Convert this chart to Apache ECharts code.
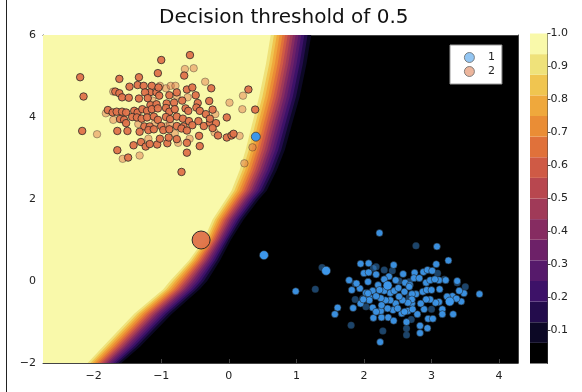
<!DOCTYPE html>
<html>
<head>
<meta charset="utf-8">
<script src="https://cdn.jsdelivr.net/npm/echarts@6/dist/echarts.min.js"></script>
<style>
  html, body { margin: 0; padding: 0; background: #fff; }
  #chart { width: 582px; height: 392px; }
</style>
</head>
<body>
<div id="chart"></div>
<script>
// axis ranges
const xMin = -2.75, xMax = 4.28;
const yMin = -2, yMax = 6;

// contour levels of the colour bar (16 bands) and their colours, bottom to top
const levels = [0, 0.0625, 0.125, 0.1875, 0.25, 0.3125, 0.375, 0.4375, 0.5,
  0.5625, 0.625, 0.6875, 0.75, 0.8125, 0.875, 0.9375, 1];
const bandColors = ['#000000', '#0c0825', '#230c4c', '#3d1268', '#561a6b', '#6d2168',
  '#862c61', '#a03a58', '#b8474f', '#cf5a45', '#e0713a', '#ea8d35', '#efa83c',
  '#f0c550', '#efe27a', '#f9f9aa'];

// transition zone: at each row, where the 0.9375 line (outer)
// and the 0.0625 line (inner) cross it, and where the lines in between sit across it
const contourRowsY = [6, 5.3, 4.5, 3.8, 3.2, 2.7, 2.2, 2.0, 1.5, 1.0, 0.5, 0.0, -0.2, -0.8, -1.6, -2.0];
const outerEdgeX = [0.62, 0.55, 0.45, 0.34, 0.25, 0.16, 0.04, -0.04, -0.24, -0.37, -0.59, -0.87, -0.97, -1.40, -1.86, -2.09];
const innerEdgeX = [1.22, 1.15, 1.05, 0.93, 0.83, 0.71, 0.56, 0.45, 0.22, 0.03, -0.13, -0.32, -0.43, -0.84, -1.31, -1.59];
const edgeFrac = [0, 0.08, 0.15, 0.22, 0.29, 0.355, 0.42, 0.485, 0.55, 0.615, 0.685, 0.755, 0.83, 0.91, 1.0];

// class 2 (orange)
const class2Solid = [
  [-2.20, 4.97], [-2.15, 4.50], [-2.17, 3.66], [-1.65, 3.19], [-1.49, 3.01], [-1.62, 4.93], [-1.79, 4.17],
  [-1.72, 4.11], [-1.68, 4.62], [-1.62, 4.58], [-1.58, 4.48], [-1.48, 4.47], [-1.47, 4.74], [-1.35, 4.78],
  [-1.33, 4.97], [-1.26, 4.76], [-1.14, 4.76], [-1.17, 4.60], [-1.24, 4.60], [-1.07, 4.60], [-1.00, 5.39],
  [-0.575, 5.51], [-1.05, 5.07], [-0.66, 5.01], [-0.62, 4.67], [-0.54, 4.72], [-0.26, 4.70], [0.29, 4.67],
  [-1.04, 4.72], [-0.77, 4.60], [-1.33, 4.45], [-1.20, 4.46], [-1.03, 4.52], [-0.88, 4.53], [-0.49, 4.53],
  [-0.46, 4.34], [-0.29, 4.39], [-1.16, 4.29], [-1.07, 4.31], [-0.92, 4.33], [-0.81, 4.35], [-0.69, 4.40],
  [-1.66, 4.13], [-1.58, 4.13], [-1.52, 4.11], [-1.40, 4.15], [-1.35, 4.11], [-1.28, 4.19], [-1.21, 4.15],
  [-1.14, 4.19], [-1.05, 4.21], [-0.93, 4.22], [-0.88, 4.13], [-0.80, 4.19], [-0.64, 4.21], [-0.60, 4.15],
  [-0.48, 4.23], [-0.43, 4.15], [-0.34, 4.07], [-0.24, 4.18], [-0.03, 3.99], [0.39, 4.18], [-1.61, 3.95],
  [-1.55, 3.93], [-1.52, 3.85], [-1.43, 4.00], [-1.36, 3.99], [-1.29, 3.96], [-1.21, 3.99], [-1.11, 4.01],
  [-1.05, 3.93], [-0.93, 4.00], [-0.87, 3.95], [-0.77, 4.01], [-0.68, 3.96], [-0.59, 3.90], [-0.54, 3.80],
  [-0.45, 3.90], [-0.37, 3.78], [-0.28, 3.86], [-0.19, 3.85], [-0.28, 3.96], [-1.25, 3.77], [-1.17, 3.77],
  [-1.00, 3.78], [-0.77, 3.78], [-0.67, 3.77], [-0.24, 3.73], [-1.65, 3.66], [-1.50, 3.66], [-1.32, 3.64],
  [-1.19, 3.68], [-1.11, 3.70], [-0.97, 3.68], [-0.88, 3.70], [-0.70, 3.72], [-0.62, 3.67], [-0.44, 3.54],
  [-0.16, 3.55], [-0.03, 3.50], [0.04, 3.55], [0.07, 3.59], [-1.41, 3.31], [-1.30, 3.39], [-1.23, 3.28],
  [-1.17, 3.34], [-1.06, 3.33], [-1.02, 3.47], [-0.91, 3.36], [-0.89, 3.50], [-0.77, 3.46], [-0.62, 3.37],
  [-0.43, 3.29], [-0.62, 3.13], [-0.70, 2.66]
];
const class2Faded = [
  [-0.65, 5.17], [-0.52, 5.19], [-0.35, 4.86], [-1.02, 4.76], [-0.93, 4.70], [-0.86, 4.76], [-0.79, 4.76],
  [-1.71, 4.62], [-0.77, 4.52], [-0.61, 4.48], [0.01, 4.35], [0.21, 4.52], [-1.13, 4.40], [-1.82, 4.09],
  [-0.20, 4.07], [0.20, 4.19], [-1.71, 3.93], [-1.34, 3.83], [-1.09, 3.86], [-0.93, 3.77], [-0.87, 3.83],
  [-1.95, 3.58], [-0.80, 3.60], [-0.21, 3.62], [0.16, 3.54], [-1.19, 3.47], [-0.58, 3.47], [-0.75, 3.37],
  [-1.57, 2.98], [-1.32, 3.06], [0.35, 3.26], [0.23, 2.87]
];
const class2Query = [[-0.41, 1.0]];

// class 1 (blue)
const class1Solid = [
  [2.23, 1.17], [3.08, 0.84], [3.25, 0.50], [0.99, -0.25], [1.61, -0.65], [1.57, -0.81], [1.78, 0.02],
  [1.84, -0.66], [1.95, 0.42], [2.07, 0.43], [2.18, 0.16], [2.00, 0.19], [2.07, 0.21], [2.44, 0.39],
  [2.58, 0.17], [2.75, 0.20], [2.88, 0.22], [2.94, 0.27], [3.01, 0.25], [3.07, 0.41], [3.11, 0.02],
  [3.21, 0.02], [3.38, 0.00], [1.82, -0.22], [1.94, -0.18], [2.03, -0.29], [2.08, -0.40], [1.95, -0.55],
  [2.13, -0.65], [2.14, -0.90], [2.26, -0.89], [2.36, -0.89], [2.44, -0.97], [2.25, -0.73], [2.43, -0.71],
  [2.56, -0.79], [2.65, -0.73], [2.71, -0.55], [2.79, -0.81], [2.89, -0.69], [2.95, -0.92], [3.02, -0.92],
  [2.83, -1.09], [2.94, -1.15], [2.63, -1.00], [2.83, -1.27], [2.24, -1.49], [3.71, -0.32], [3.44, -0.50],
  [3.48, -0.30], [3.31, -0.37], [3.37, -0.43], [3.16, -0.69], [3.16, -0.81], [3.32, -0.81], [3.11, -0.51],
  [3.06, -0.53], [2.98, -0.45], [2.92, -0.45], [2.87, -0.26], [2.93, -0.22], [3.00, -0.22], [3.12, -0.20],
  [2.77, -0.32], [2.71, -0.32], [2.71, -0.45], [2.65, -0.53], [2.57, -0.47], [2.47, -0.55], [2.39, -0.47],
  [2.32, -0.47], [2.25, -0.42], [2.39, -0.29], [2.45, -0.24], [2.51, -0.17], [2.30, -0.24], [2.21, -0.10],
  [2.13, -0.24], [2.06, -0.30], [2.18, -0.37], [2.23, -0.22], [2.52, -0.38], [2.60, -0.26], [2.61, -0.04],
  [2.68, -0.10], [2.74, 0.07], [2.82, 0.07], [2.92, -0.04], [2.98, 0.02], [3.05, 0.04], [2.84, -0.55],
  [3.23, -0.38], [3.41, -0.24], [2.67, -0.14], [2.47, 0.02], [2.37, 0.11], [2.30, 0.04], [2.06, -0.02],
  [1.89, -0.06], [2.26, -0.59], [2.18, -0.75], [2.35, -0.67], [2.50, -0.67], [2.60, -0.75], [2.72, -0.69],
  [2.08, -0.47], [1.99, -0.45]
];
const class1Faded = [
  [2.77, 0.86], [1.38, 0.33], [1.28, -0.20], [1.81, -1.08], [2.28, -1.22], [2.63, -1.16], [2.63, -1.32],
  [3.50, -0.14], [3.38, -0.04], [1.87, -0.06], [2.18, 0.35], [2.30, 0.27], [2.52, 0.00], [2.67, -0.02],
  [1.87, -0.45], [2.03, -0.63], [2.70, -0.94], [3.00, -0.69], [3.09, 0.19], [3.19, 0.04], [2.42, 0.25],
  [2.14, 0.31], [1.98, -0.43], [2.67, -0.40]
];
const class1Large = [[0.52, 0.63], [1.44, 0.25], [2.35, -0.11], [3.27, -0.50], [0.40, 3.52]];

const xTicksMinus = (v) => (v < 0 ? '\u2212' + Math.abs(v) : String(v));
const font = 'DejaVu Sans';
const orange = '#df724a';
const blue = '#3d97ea';

// fills the region on the high side of one contour line
function renderLevel(params, api) {
  const k = api.value(2);
  const f = edgeFrac[15 - k];
  const pts = [api.coord([xMin, yMax])];
  for (let i = 0; i < contourRowsY.length; i++) {
    const x = outerEdgeX[i] + f * (innerEdgeX[i] - outerEdgeX[i]);
    pts.push(api.coord([x, contourRowsY[i]]));
  }
  pts.push(api.coord([xMin, yMin]));
  return { type: 'polygon', shape: { points: pts }, style: { fill: bandColors[k] } };
}

// one band of the colour bar
function renderBand(params, api) {
  const i = api.value(2);
  const p0 = api.coord([0, levels[i]]);
  const p1 = api.coord([1, levels[i + 1]]);
  return {
    type: 'rect',
    shape: { x: p0[0], y: p1[1], width: p1[0] - p0[0], height: p0[1] - p1[1] },
    style: { fill: bandColors[i] }
  };
}

const levelData = [];
for (let k = 1; k <= 15; k++) levelData.push([xMin, yMin, k]);
const bandData = [];
for (let i = 0; i < 16; i++) bandData.push([0, levels[i], i]);

const chart = echarts.init(document.getElementById('chart'), null, { renderer: 'canvas' });

chart.setOption({
  animation: false,
  backgroundColor: '#fff',
  textStyle: { fontFamily: font },
  title: {
    text: 'Decision threshold of 0.5',
    left: 154,
    top: 3,
    textStyle: { fontFamily: font, fontSize: 20, fontWeight: 'normal', color: '#111' }
  },
  graphic: [{
    type: 'line',
    shape: { x1: 6.5, y1: 0, x2: 6.5, y2: 392 },
    style: { stroke: '#222', lineWidth: 1 }
  }],
  legend: {
    left: 450,
    top: 45,
    orient: 'vertical',
    backgroundColor: '#fff',
    borderColor: '#999',
    borderWidth: 1,
    borderRadius: 0,
    padding: [7, 7, 7, 14],
    itemGap: 3,
    itemWidth: 25,
    itemHeight: 10,
    icon: 'circle',
    textStyle: { fontFamily: font, fontSize: 11, color: '#222', padding: [0, 0, 0, 1] },
    data: [
      { name: '1', itemStyle: { color: '#93c6f3', borderColor: '#666', borderWidth: 0.8, opacity: 1 } },
      { name: '2', itemStyle: { color: '#ecb59c', borderColor: '#666', borderWidth: 0.8, opacity: 1 } }
    ],
    selectedMode: false
  },
  grid: [
    { left: 43, top: 35, width: 475, height: 328, show: true, backgroundColor: '#000', borderWidth: 0 },
    { left: 530, top: 33.5, width: 17.5, height: 330 }
  ],
  xAxis: [
    {
      gridIndex: 0, type: 'value', min: xMin, max: xMax, splitNumber: 7,
      axisLine: { show: true, onZero: false, lineStyle: { color: '#444', width: 1 } },
      axisTick: { show: true, inside: true, length: 4, lineStyle: { color: '#444' } },
      axisLabel: {
        showMinLabel: false, showMaxLabel: false, formatter: xTicksMinus,
        fontFamily: font, fontSize: 11, color: '#222', margin: 8
      },
      splitLine: { show: false }
    },
    {
      gridIndex: 0, type: 'value', min: xMin, max: xMax, position: 'top',
      axisLine: { show: true, onZero: false, lineStyle: { color: '#444', width: 1 } },
      axisTick: { show: false }, axisLabel: { show: false }, splitLine: { show: false }
    },
    { gridIndex: 1, type: 'value', min: 0, max: 1, show: false }
  ],
  yAxis: [
    {
      gridIndex: 0, type: 'value', min: yMin, max: yMax, interval: 2,
      axisLine: { show: true, onZero: false, lineStyle: { color: '#444', width: 1 } },
      axisTick: { show: true, inside: true, length: 4, lineStyle: { color: '#444' } },
      axisLabel: { formatter: xTicksMinus, fontFamily: font, fontSize: 11, color: '#222', margin: 7 },
      splitLine: { show: false }
    },
    {
      gridIndex: 0, type: 'value', min: yMin, max: yMax, position: 'right',
      axisLine: { show: true, onZero: false, lineStyle: { color: '#444', width: 1 } },
      axisTick: { show: false }, axisLabel: { show: false }, splitLine: { show: false }
    },
    {
      gridIndex: 1, type: 'value', min: 0, max: 1, interval: 0.1, position: 'right',
      axisLine: { show: true, onZero: false, lineStyle: { color: '#444', width: 1 } },
      axisTick: { show: true, inside: false, length: 3, lineStyle: { color: '#444' } },
      axisLabel: {
        showMinLabel: false, formatter: (v) => v.toFixed(1),
        fontFamily: font, fontSize: 11, color: '#222', margin: 3
      },
      splitLine: { show: false }
    }
  ],
  series: [
    {
      type: 'custom', name: 'contour', xAxisIndex: 0, yAxisIndex: 0,
      renderItem: renderLevel, data: levelData, encode: { x: 0, y: 1 },
      silent: true, z: 1
    },
    {
      type: 'custom', name: 'colorbar', xAxisIndex: 2, yAxisIndex: 2,
      renderItem: renderBand, data: bandData, encode: { x: 0, y: 1 },
      silent: true, z: 1
    },
    {
      type: 'scatter', name: '2', data: class2Faded, symbolSize: 7.5, z: 3,
      itemStyle: { color: orange, borderColor: '#222', borderWidth: 0.8, opacity: 0.45 }
    },
    {
      type: 'scatter', name: '2', data: class2Solid, symbolSize: 7.5, z: 3,
      itemStyle: { color: orange, borderColor: '#222', borderWidth: 0.8, opacity: 0.95 }
    },
    {
      type: 'scatter', name: '2', data: class2Query, symbolSize: 18, z: 4,
      itemStyle: { color: orange, borderColor: '#222', borderWidth: 1, opacity: 0.95 }
    },
    {
      type: 'scatter', name: '1', data: class1Faded, symbolSize: 7, z: 3,
      itemStyle: { color: blue, borderColor: '#222', borderWidth: 0.6, opacity: 0.45 }
    },
    {
      type: 'scatter', name: '1', data: class1Solid, symbolSize: 7, z: 3,
      itemStyle: { color: blue, borderColor: '#222', borderWidth: 0.6, opacity: 0.95 }
    },
    {
      type: 'scatter', name: '1', data: class1Large, symbolSize: 9, z: 4,
      itemStyle: { color: blue, borderColor: '#222', borderWidth: 0.6, opacity: 1 }
    }
  ]
});
</script>
</body>
</html>
